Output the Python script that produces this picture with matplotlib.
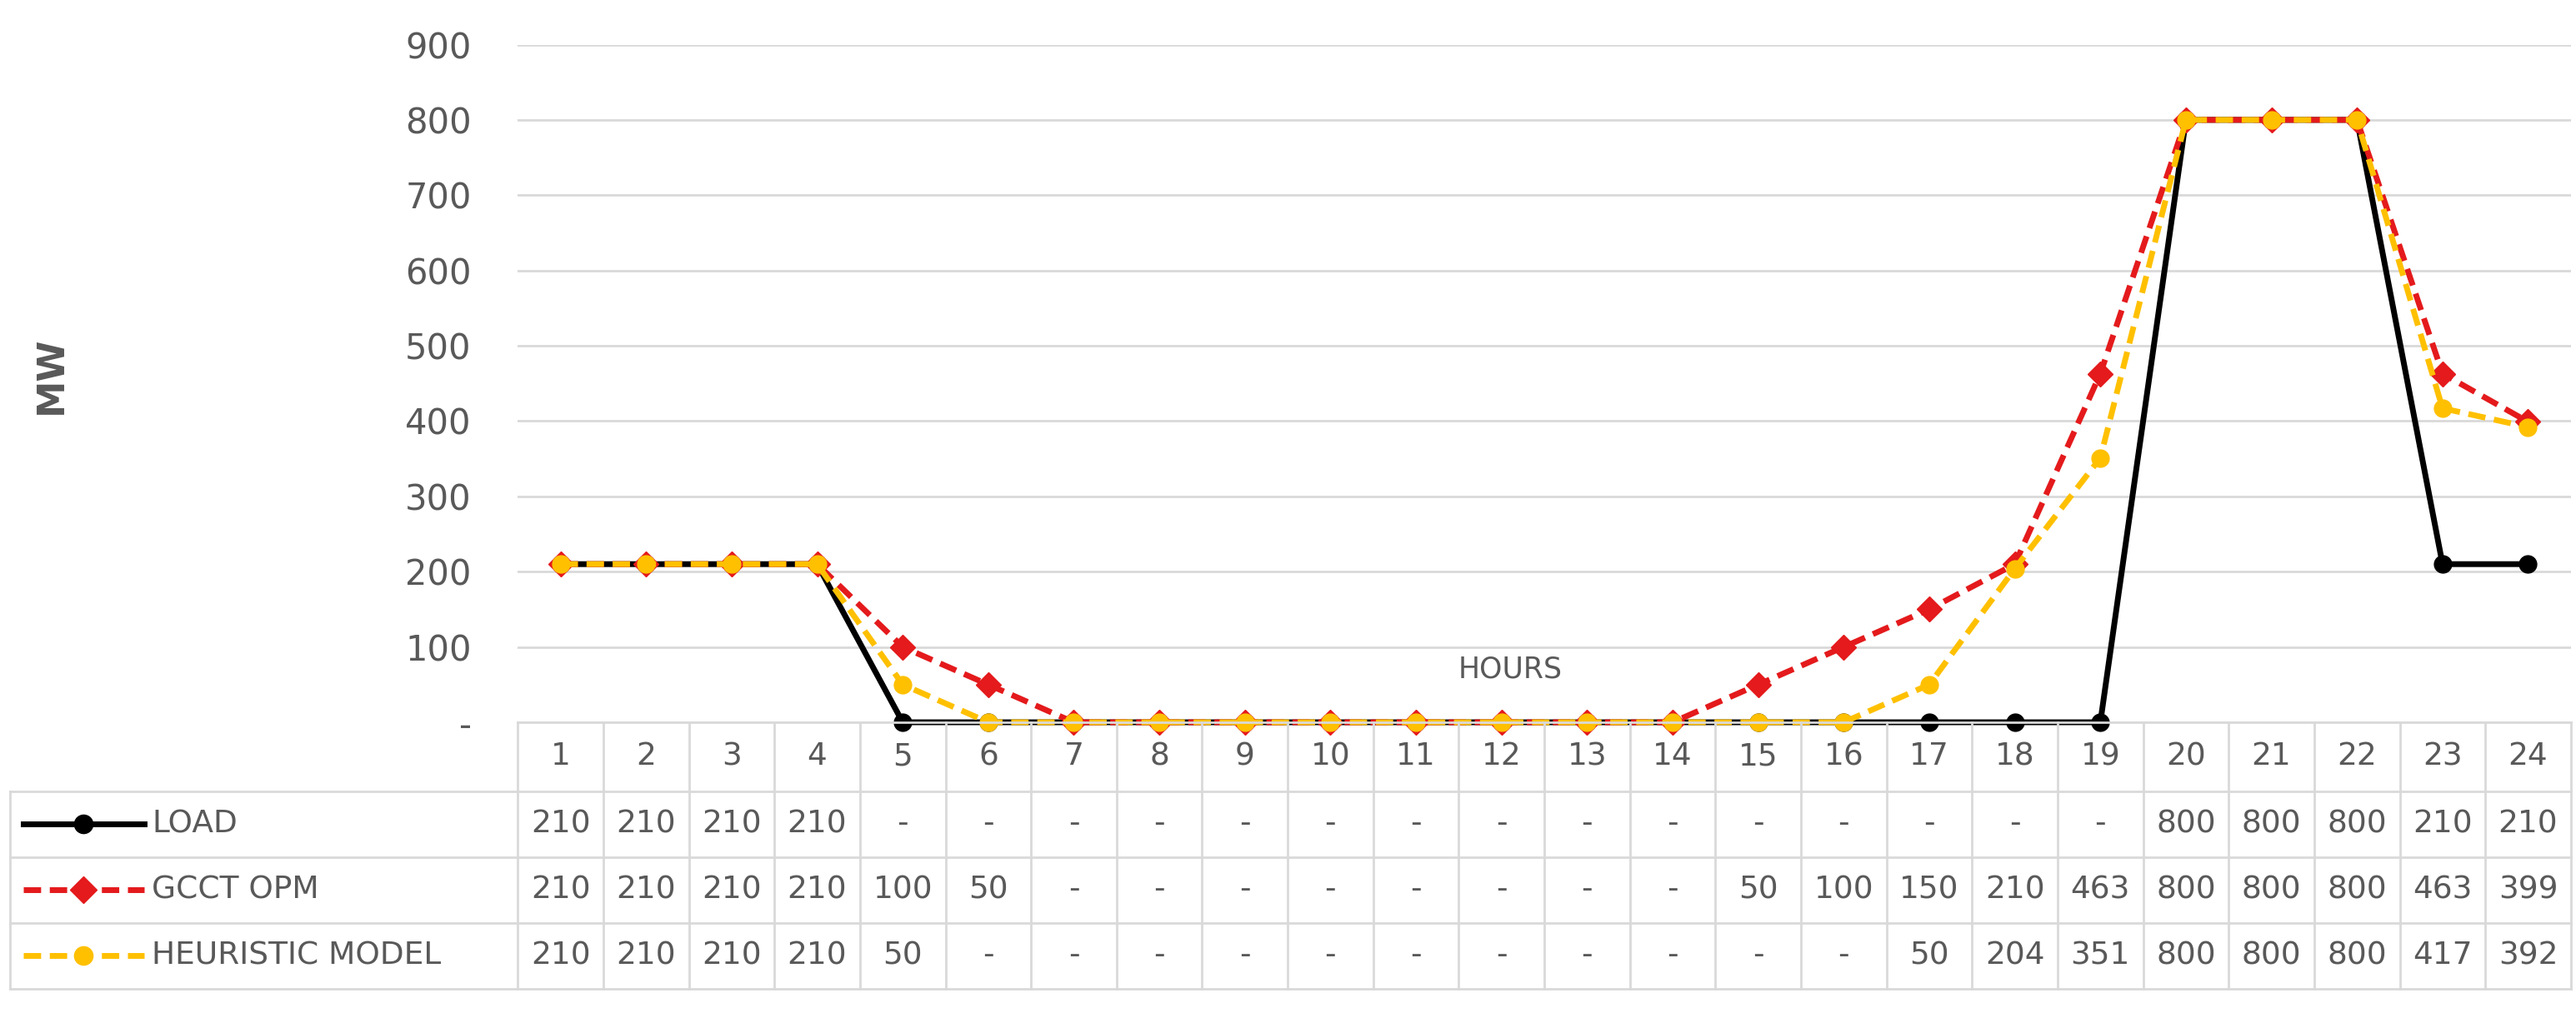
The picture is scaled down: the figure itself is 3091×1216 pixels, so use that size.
import matplotlib
matplotlib.use("Agg")
import matplotlib.pyplot as plt
from matplotlib.lines import Line2D

hours = list(range(1, 25))
load = [210,210,210,210,0,0,0,0,0,0,0,0,0,0,0,0,0,0,0,800,800,800,210,210]
gcct = [210,210,210,210,100,50,0,0,0,0,0,0,0,0,50,100,150,210,463,800,800,800,463,399]
heur = [210,210,210,210,50,0,0,0,0,0,0,0,0,0,0,0,50,204,351,800,800,800,417,392]
series_names = ["LOAD", "GCCT OPM", "HEURISTIC MODEL"]
yticks = list(range(0, 1000, 100))

W, H = 3091, 1216
fig = plt.figure(figsize=(W/100, H/100), dpi=100)
fs = 27
grey = "#d9d9d9"
tc = "#595959"

L, R = 0.201, 0.998
y0, ytop = 0.287, 0.956
ax = fig.add_axes([L, y0, R-L, ytop-y0])
styles = [dict(color="black", ls="-", marker="o"),
          dict(color="#e41a1c", ls=(0,(3,1.5)), marker="D"),
          dict(color="#ffc000", ls=(0,(3,1.5)), marker="o")]
for vals, st in zip([load, gcct, heur], styles):
    ax.plot(hours, vals, lw=5, ms=15, color=st["color"], ls=st["ls"],
            marker=st["marker"], zorder=3, clip_on=False)
ax.set_xlim(0.5, 24.5)
ax.set_ylim(0, 900)
ax.set_yticks(yticks)
ax.set_yticklabels(["-"] + [str(v) for v in yticks[1:]], fontsize=fs+3, color=tc)
ax.set_xticks([])
ax.grid(axis="y", color=grey, lw=2)
for s in ax.spines.values():
    s.set_visible(False)
ax.tick_params(length=0, pad=40)
ax.text(12.1, 70, "HOURS", fontsize=fs-2, color=tc, ha="center", va="center")
fig.text(0.02, 0.63, "MW", rotation=90, fontsize=fs+5, color=tc,
         ha="center", va="center", fontweight="bold")

# data table
rows_y = [0.287, 0.219, 0.154, 0.089, 0.024]
tl = 0.004
cw = (R-L)/24
lk = dict(transform=fig.transFigure, color=grey, lw=2)
fig.add_artist(Line2D([L, R], [rows_y[0]]*2, **lk))
for y in rows_y[1:]:
    fig.add_artist(Line2D([tl, R], [y]*2, **lk))
for i in range(25):
    x = L + i*cw
    fig.add_artist(Line2D([x, x], [rows_y[0], rows_y[-1]], **lk))
fig.add_artist(Line2D([tl, tl], [rows_y[1], rows_y[-1]], **lk))
for i, h in enumerate(hours):
    fig.text(L+(i+0.5)*cw, (rows_y[0]+rows_y[1])/2, str(h), fontsize=fs,
             color=tc, ha="center", va="center")
for r, (name, vals, st) in enumerate(zip(series_names, [load, gcct, heur], styles)):
    yc = (rows_y[r+1]+rows_y[r+2])/2
    fig.add_artist(Line2D([0.009, 0.056], [yc, yc], transform=fig.transFigure,
                          color=st["color"], ls=st["ls"], lw=5))
    fig.add_artist(Line2D([0.0325], [yc], transform=fig.transFigure,
                          color=st["color"], marker=st["marker"], ms=16))
    fig.text(0.059, yc, name, fontsize=fs, color=tc, ha="left", va="center")
    for i, v in enumerate(vals):
        fig.text(L+(i+0.5)*cw, yc, "-" if v == 0 else str(v), fontsize=fs,
                 color=tc, ha="center", va="center")

fig.savefig("out.png", dpi=100, facecolor="white")
